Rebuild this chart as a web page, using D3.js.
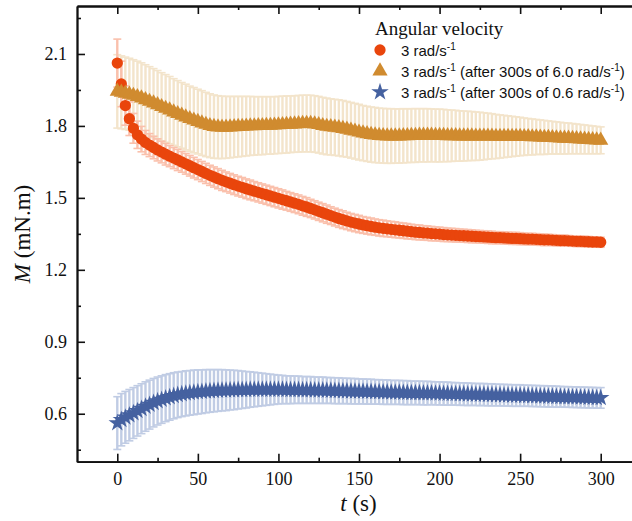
<!DOCTYPE html>
<html><head><meta charset="utf-8">
<script src="https://cdn.jsdelivr.net/npm/d3@7"></script>
<style>body{margin:0;background:#fff}svg{display:block}</style>
</head><body>
<svg id="c" width="632" height="521"></svg>
<script>
// time stamps (s), one every 2.5 s
const times = d3.range(0, 300.001, 2.5);

// 3 rad/s-1
const redVals = [
2.062,1.975,1.885,1.830,1.790,1.763,1.745,1.731,1.720,1.710,
1.700,1.691,1.682,1.674,1.666,1.658,1.650,1.642,1.634,1.626,
1.618,1.610,1.602,1.594,1.587,1.580,1.573,1.567,1.561,1.555,
1.549,1.544,1.538,1.533,1.528,1.523,1.518,1.513,1.508,1.503,
1.498,1.493,1.488,1.483,1.478,1.473,1.467,1.462,1.456,1.450,
1.444,1.438,1.432,1.426,1.420,1.414,1.409,1.404,1.399,1.395,
1.391,1.387,1.384,1.381,1.378,1.375,1.373,1.371,1.369,1.367,
1.365,1.363,1.361,1.359,1.357,1.356,1.354,1.353,1.351,1.350,
1.349,1.347,1.346,1.345,1.344,1.343,1.342,1.341,1.340,1.339,
1.338,1.337,1.336,1.335,1.334,1.334,1.333,1.332,1.331,1.331,
1.330,1.329,1.328,1.328,1.327,1.326,1.325,1.325,1.324,1.323,
1.322,1.322,1.321,1.320,1.319,1.319,1.318,1.317,1.316,1.316,
1.315];
const redErr = [
0.100,0.095,0.082,0.070,0.062,0.057,0.053,0.050,0.048,0.047,
0.046,0.045,0.045,0.044,0.044,0.044,0.043,0.043,0.043,0.043,
0.042,0.042,0.042,0.042,0.042,0.042,0.042,0.041,0.041,0.041,
0.041,0.041,0.041,0.041,0.040,0.040,0.040,0.040,0.040,0.040,
0.040,0.040,0.039,0.039,0.039,0.039,0.039,0.039,0.038,0.038,
0.038,0.038,0.038,0.037,0.037,0.037,0.037,0.036,0.036,0.036,
0.036,0.035,0.035,0.035,0.034,0.034,0.034,0.033,0.033,0.033,
0.032,0.032,0.032,0.031,0.031,0.031,0.030,0.030,0.030,0.029,
0.029,0.029,0.028,0.028,0.028,0.027,0.027,0.027,0.027,0.026,
0.026,0.026,0.026,0.026,0.025,0.025,0.025,0.025,0.025,0.025,
0.025,0.024,0.024,0.024,0.024,0.024,0.024,0.023,0.023,0.023,
0.023,0.023,0.022,0.022,0.022,0.022,0.022,0.022,0.021,0.021,
0.021];

// 3 rad/s-1 (after 300s of 6.0 rad/s-1)
const goldVals = [
1.944,1.940,1.936,1.932,1.927,1.922,1.916,1.909,1.902,1.895,
1.888,1.880,1.873,1.866,1.858,1.851,1.844,1.837,1.830,1.824,
1.818,1.812,1.806,1.801,1.797,1.795,1.794,1.794,1.795,1.796,
1.797,1.798,1.799,1.800,1.800,1.801,1.801,1.802,1.802,1.803,
1.804,1.805,1.806,1.807,1.808,1.809,1.810,1.810,1.810,1.808,
1.805,1.801,1.798,1.796,1.794,1.792,1.789,1.786,1.782,1.778,
1.774,1.770,1.767,1.764,1.762,1.760,1.759,1.758,1.758,1.758,
1.758,1.759,1.759,1.760,1.760,1.761,1.761,1.761,1.761,1.760,
1.760,1.760,1.759,1.759,1.759,1.758,1.758,1.758,1.758,1.757,
1.757,1.757,1.757,1.757,1.756,1.756,1.756,1.756,1.756,1.756,
1.756,1.755,1.755,1.754,1.754,1.753,1.752,1.752,1.751,1.750,
1.749,1.748,1.748,1.747,1.746,1.745,1.744,1.743,1.742,1.741,
1.740];
const goldErr = [
0.153,0.152,0.151,0.150,0.149,0.148,0.147,0.146,0.145,0.144,
0.143,0.142,0.141,0.140,0.139,0.138,0.137,0.137,0.136,0.136,
0.135,0.135,0.134,0.133,0.132,0.131,0.130,0.129,0.128,0.127,
0.126,0.125,0.124,0.123,0.122,0.121,0.121,0.120,0.120,0.119,
0.119,0.119,0.119,0.118,0.118,0.118,0.118,0.118,0.118,0.118,
0.118,0.118,0.118,0.117,0.117,0.117,0.117,0.116,0.116,0.116,
0.116,0.115,0.115,0.115,0.115,0.114,0.114,0.114,0.114,0.113,
0.113,0.113,0.112,0.112,0.112,0.111,0.111,0.111,0.110,0.110,
0.110,0.109,0.108,0.107,0.106,0.105,0.104,0.103,0.102,0.101,
0.100,0.098,0.096,0.094,0.092,0.090,0.088,0.086,0.084,0.082,
0.080,0.078,0.076,0.075,0.073,0.072,0.071,0.069,0.068,0.067,
0.066,0.065,0.064,0.063,0.062,0.061,0.060,0.059,0.058,0.057,
0.056];

// 3 rad/s-1 (after 300s of 0.6 rad/s-1)
const blueVals = [
0.561,0.575,0.585,0.594,0.603,0.612,0.621,0.630,0.638,0.646,
0.653,0.659,0.665,0.670,0.675,0.679,0.682,0.685,0.687,0.689,
0.691,0.692,0.694,0.695,0.696,0.697,0.698,0.698,0.699,0.699,
0.700,0.700,0.700,0.701,0.701,0.701,0.701,0.701,0.701,0.701,
0.701,0.701,0.700,0.700,0.700,0.700,0.699,0.699,0.699,0.698,
0.698,0.698,0.697,0.697,0.696,0.696,0.695,0.695,0.694,0.694,
0.693,0.693,0.692,0.692,0.691,0.691,0.690,0.690,0.689,0.689,
0.689,0.688,0.688,0.687,0.687,0.687,0.686,0.686,0.686,0.685,
0.685,0.684,0.684,0.683,0.683,0.682,0.682,0.681,0.681,0.680,
0.680,0.680,0.679,0.679,0.678,0.678,0.677,0.677,0.676,0.676,
0.676,0.675,0.675,0.674,0.674,0.673,0.673,0.672,0.672,0.671,
0.671,0.670,0.670,0.669,0.669,0.668,0.668,0.667,0.667,0.666,
0.666];
const blueErr = [
0.110,0.109,0.108,0.107,0.106,0.105,0.104,0.103,0.102,0.101,
0.100,0.099,0.098,0.097,0.096,0.095,0.094,0.094,0.093,0.093,
0.092,0.091,0.090,0.089,0.088,0.087,0.086,0.085,0.083,0.082,
0.080,0.078,0.076,0.074,0.072,0.070,0.068,0.066,0.064,0.062,
0.060,0.059,0.058,0.058,0.057,0.057,0.056,0.056,0.056,0.055,
0.055,0.055,0.054,0.054,0.054,0.054,0.053,0.053,0.053,0.053,
0.052,0.052,0.052,0.052,0.051,0.051,0.051,0.051,0.050,0.050,
0.050,0.050,0.050,0.049,0.049,0.049,0.049,0.049,0.048,0.048,
0.048,0.048,0.048,0.047,0.047,0.047,0.047,0.047,0.046,0.046,
0.046,0.046,0.046,0.046,0.045,0.045,0.045,0.045,0.045,0.045,
0.045,0.044,0.044,0.044,0.044,0.044,0.044,0.044,0.044,0.044,
0.043,0.043,0.043,0.043,0.043,0.043,0.043,0.043,0.043,0.043,
0.043];

const xMajor = [0, 50, 100, 150, 200, 250, 300];
const xMinor = [25, 75, 125, 175, 225, 275];
const yMajor = [0.6, 0.9, 1.2, 1.5, 1.8, 2.1];
const yMinor = [0.45, 0.75, 1.05, 1.35, 1.65, 1.95, 2.25];

const series = [
  {name: "red", vals: redVals, err: redErr, color: "#E9450C", errColor: "#FAC0AC", sym: d3.symbolCircle, size: 100},
  {name: "gold", vals: goldVals, err: goldErr, color: "#D08B2F", errColor: "#F3E4CB", sym: d3.symbolTriangle, size: 100},
  {name: "blue", vals: blueVals, err: blueErr, color: "#4561A0", errColor: "#C0CCE4", sym: d3.symbolStar, size: 95}
];

const svg = d3.select("#c");
const L = 77, R = 641, T = 6, B = 461.7;
const x = d3.scaleLinear().domain([-25, 325]).range([L, R]);
const y = d3.scaleLinear().domain([0.4, 2.3]).range([B, T]);

const plot = svg.append("g");
// error bars behind markers
const errOrder = [series[1], series[0], series[2]];
errOrder.forEach(s => {
  const g = plot.append("g").attr("stroke", s.errColor).attr("fill", "none");
  times.forEach((t, i) => {
    const cx = x(t), y0 = y(s.vals[i] - s.err[i]), y1 = y(s.vals[i] + s.err[i]);
    g.append("line").attr("x1", cx).attr("x2", cx).attr("y1", y0).attr("y2", y1).attr("stroke-width", 2.4);
    g.append("line").attr("x1", cx - 4).attr("x2", cx + 4).attr("y1", y0).attr("y2", y0).attr("stroke-width", 1.6);
    g.append("line").attr("x1", cx - 4).attr("x2", cx + 4).attr("y1", y1).attr("y2", y1).attr("stroke-width", 1.6);
  });
});
// markers
series.forEach(s => {
  const sym = d3.symbol().type(s.sym).size(s.size);
  plot.append("g").selectAll("path").data(times).join("path")
    .attr("d", sym)
    .attr("transform", (t, i) => `translate(${x(t)},${y(s.vals[i])})`)
    .attr("fill", s.color);
});

// axes
const axFont = "Liberation Serif, Times New Roman, serif";
function styleAxis(g) {
  g.selectAll("path.domain").attr("stroke", "#111").attr("stroke-width", 1.8);
  g.selectAll(".tick line").attr("stroke", "#111").attr("stroke-width", 1.6);
  g.selectAll("text").attr("font-family", axFont).attr("font-size", 18).attr("fill", "#111");
}
const yAx = svg.append("g").attr("transform", `translate(${L},0)`)
  .call(d3.axisLeft(y).tickValues(yMajor).tickFormat(d3.format(".1f")).tickSizeInner(-8).tickSizeOuter(0).tickPadding(10));
styleAxis(yAx);
const yAxMin = svg.append("g").attr("transform", `translate(${L},0)`)
  .call(d3.axisLeft(y).tickValues(yMinor).tickFormat("").tickSizeInner(-4).tickSizeOuter(0));
styleAxis(yAxMin);

const xAx = svg.append("g").attr("transform", `translate(0,${B})`)
  .call(d3.axisBottom(x).tickValues(xMajor).tickFormat(d3.format("d")).tickSizeInner(-8).tickSizeOuter(0).tickPadding(11));
styleAxis(xAx);
const xAxMin = svg.append("g").attr("transform", `translate(0,${B})`)
  .call(d3.axisBottom(x).tickValues(xMinor).tickFormat("").tickSizeInner(-4).tickSizeOuter(0));
styleAxis(xAxMin);

const xTop = svg.append("g").attr("transform", `translate(0,${T})`)
  .call(d3.axisTop(x).tickValues(xMajor).tickFormat("").tickSizeInner(-8).tickSizeOuter(0));
styleAxis(xTop);
const xTopMin = svg.append("g").attr("transform", `translate(0,${T})`)
  .call(d3.axisTop(x).tickValues(xMinor).tickFormat("").tickSizeInner(-4).tickSizeOuter(0));
styleAxis(xTopMin);

// axis titles
const xt = svg.append("text").attr("x", 358.5).attr("y", 511).attr("text-anchor", "middle")
  .attr("font-family", axFont).attr("font-size", 23).attr("fill", "#111");
xt.append("tspan").attr("font-style", "italic").text("t");
xt.append("tspan").text(" (s)");

const yt = svg.append("text").attr("transform", "translate(30,234) rotate(-90)").attr("text-anchor", "middle")
  .attr("font-family", axFont).attr("font-size", 23).attr("fill", "#111");
yt.append("tspan").attr("font-style", "italic").text("M");
yt.append("tspan").text(" (mN.m)");

// legend
const lg = svg.append("g");
lg.append("text").attr("x", 375).attr("y", 35).attr("font-family", axFont).attr("font-size", 19)
  .attr("fill", "#111").text("Angular velocity");
const legendItems = [
  {s: series[0], y: 50, parts: [["3 rad/s", false], ["-1", true]]},
  {s: series[1], y: 71, parts: [["3 rad/s", false], ["-1", true], [" (after 300s of 6.0 rad/s", false], ["-1", true], [")", false]]},
  {s: series[2], y: 92, parts: [["3 rad/s", false], ["-1", true], [" (after 300s of 0.6 rad/s", false], ["-1", true], [")", false]]}
];
legendItems.forEach(it => {
  lg.append("path").attr("d", d3.symbol().type(it.s.sym).size(it.s.size)())
    .attr("transform", `translate(380,${it.y})`).attr("fill", it.s.color);
  const tx = lg.append("text").attr("x", 401).attr("y", it.y + 5.5)
    .attr("font-family", "Liberation Sans, Arial, sans-serif").attr("font-size", 15).attr("fill", "#111");
  let raised = false;
  it.parts.forEach(([str, sup]) => {
    const sp = tx.append("tspan").text(str);
    if (sup && !raised) { sp.attr("dy", -6).attr("font-size", 10); raised = true; }
    else if (!sup && raised) { sp.attr("dy", 6); raised = false; }
  });
});
</script>
</body></html>
